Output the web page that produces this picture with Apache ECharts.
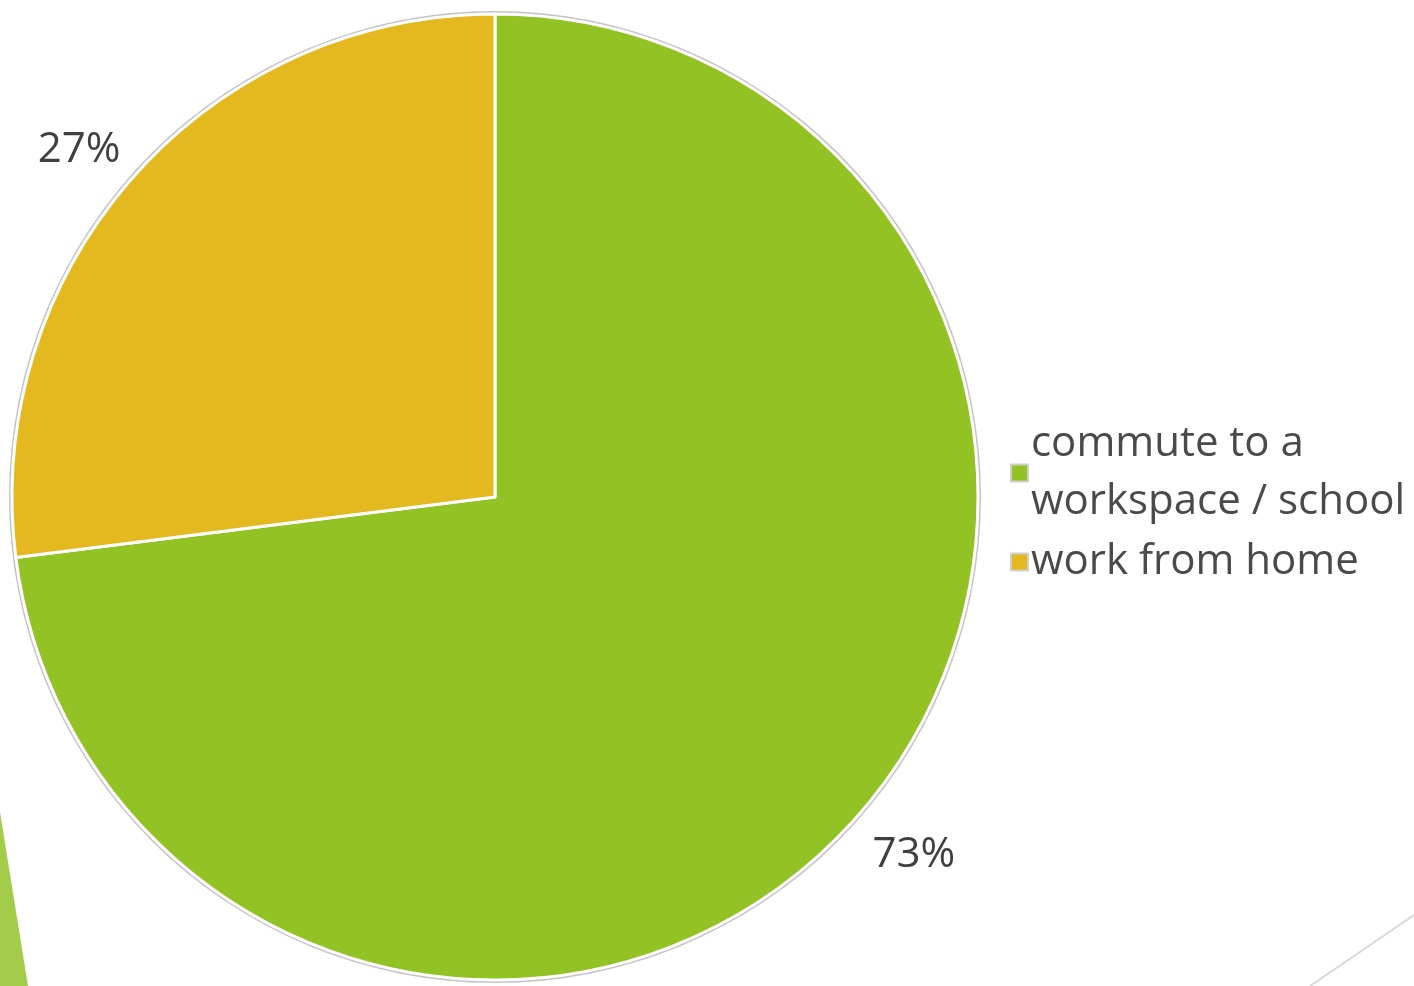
<!DOCTYPE html>
<html>
<head>
<meta charset="utf-8">
<script src="https://cdn.jsdelivr.net/npm/echarts@6/dist/echarts.min.js"></script>
<style>html,body{margin:0;padding:0;background:#fff}#c{width:1414px;height:986px}</style>
</head>
<body>
<div id="c"></div>
<script>
const categories = ['commute to a\nworkspace / school', 'work from home'];
const values = [73, 27];
const colors = ['#93C225', '#E4B920'];

const chart = echarts.init(document.getElementById('c'));
const pieData = categories.map((n, i) => ({ name: n, value: values[i], itemStyle: { color: colors[i] } }));
chart.setOption({
  animation: false,
  backgroundColor: '#ffffff',
  legend: {
    orient: 'vertical',
    left: 1005,
    top: 410,
    itemWidth: 17,
    itemHeight: 17,
    itemGap: 2,
    icon: 'rect',
    itemStyle: { borderColor: '#cfcfcf', borderWidth: 2 },
    textStyle: { fontFamily: 'Open Sans', fontSize: 42, color: '#4a4a4a', lineHeight: 58, padding: [0, 0, 0, -2] },
    data: categories
  },
  graphic: [
    { type: 'polygon', silent: true, shape: { points: [[0, 812], [28, 986], [0, 986]] }, style: { fill: '#A2CC4A' } },
    { type: 'line', silent: true, shape: { x1: 1310, y1: 986, x2: 1414, y2: 915 }, style: { stroke: '#d9d9d9', lineWidth: 2 } }
  ],
  series: [
    {
      type: 'pie', silent: true, center: [495, 497], radius: 486, startAngle: 90, clockwise: true,
      data: [{ value: 1, itemStyle: { color: '#c4c4c4' } }],
      label: { show: false }, labelLine: { show: false }, z: 1
    },
    {
      type: 'pie', silent: true, center: [495, 497], radius: 483, startAngle: 90, clockwise: true,
      data: pieData,
      itemStyle: { borderColor: '#ffffff', borderWidth: 3 },
      label: { show: false }, labelLine: { show: false }, z: 2
    },
    {
      type: 'pie', silent: true, center: [495, 497], radius: [500, 592], startAngle: 90, clockwise: true,
      data: categories.map((n, i) => ({ name: n, value: values[i] })),
      itemStyle: { color: 'rgba(0,0,0,0)' },
      legendHoverLink: false,
      label: {
        show: true, position: 'inside', formatter: p => p.value + '%',
        fontFamily: 'Open Sans', fontSize: 42, color: '#404040'
      },
      labelLayout: p => (p.dataIndex === 0 ? { dx: 7, dy: -5 } : { dx: -4, dy: 16 }),
      labelLine: { show: false }, z: 3
    }
  ]
});
</script>
</body>
</html>
